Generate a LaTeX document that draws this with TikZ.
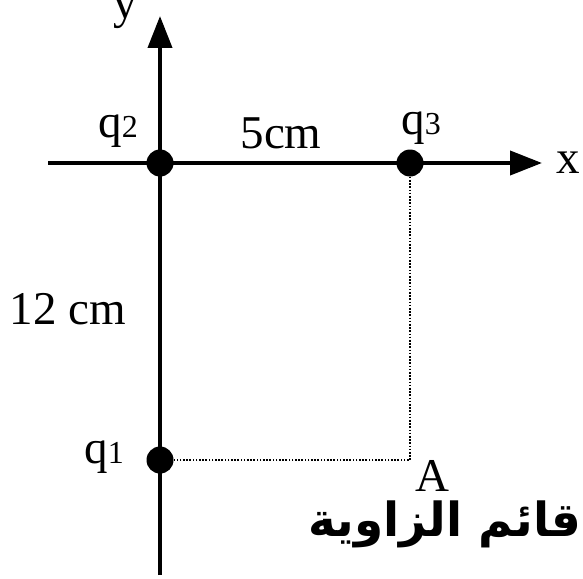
\documentclass[tikz,border=0pt]{standalone}
\usepackage{fontspec}
\setmainfont{Liberation Serif}
\newfontfamily\arabicfont[Script=Arabic]{DejaVu Sans}
\TeXXeTstate=1
\usetikzlibrary{arrows.meta,positioning}
\tikzset{
  >={Triangle[length=32pt,width=24pt]},
  axis/.style   ={->,line width=4pt},
  charge/.style ={circle,fill=black,inner sep=0pt,minimum size=27pt},
  guide/.style  ={line width=2pt,dash pattern=on 1.6pt off 1.6pt},
  lbl/.style    ={font=\fontsize{47}{50}\selectfont,inner sep=1pt},
  arlbl/.style  ={font=\fontsize{47}{52}\selectfont\arabicfont\bfseries,inner sep=0pt},
}
\newcommand{\qsub}[1]{q{\fontsize{32}{34}\selectfont #1}}
\begin{document}
\begin{tikzpicture}[x=1pt,y=-1pt]
\useasboundingbox (0,0) rectangle (583,578);
% axes
\coordinate (xs) at (48,163);
\coordinate (xe) at (542,163);
\coordinate (ys) at (160,575);
\coordinate (ye) at (160,16);
\draw[axis] (xs) -- (xe);
\draw[axis] (ys) -- (ye);
\node[lbl] (ylbl) at (125,13) {y};
\node[lbl] (xlbl) at (568,163) {x};
% charges
\node[charge] (q2) at (160,163) {};
\node[charge] (q3) at (410,163) {};
\node[charge] (q1) at (160,460) {};
\coordinate (A) at (410,460);
\draw[guide] (q3) -- (A) -- (q1);
% labels
\node[lbl] (q2lbl) at (118,131) {\qsub{2}};
\node[lbl] (q3lbl) at (421,128) {\qsub{3}};
\node[lbl] (q1lbl) at (104,457) {\qsub{1}};
\node[lbl] (d23) at (281,133) {5cm};
\node[lbl] (d12) at (68,309) {12 cm};
\node[lbl] (Albl) at (432,476) {A};
\node[arlbl,anchor=east] (note) at (582,524) {\beginR قائم الزاوية\endR};
\end{tikzpicture}
\end{document}
